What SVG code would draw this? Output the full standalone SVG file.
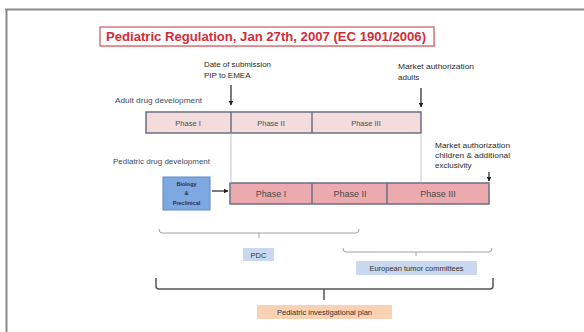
<svg xmlns="http://www.w3.org/2000/svg" width="584" height="332" viewBox="0 0 584 332">
<defs>
<style>
text{font-family:"Liberation Sans",Arial,sans-serif;}
.lbl{font-size:8px;fill:#2a2a2a;}
.sec{font-size:8px;fill:#3c4a66;}
.ph-a{font-size:7.5px;fill:#4a4a4a;text-anchor:middle;}
.ph-p{font-size:9px;fill:#4a4a4a;text-anchor:middle;}
.row-a{fill:#f4dcdd;stroke:#6b6f86;stroke-width:1.5;}
.row-p{fill:#eaaaae;stroke:#6b6f86;stroke-width:1.5;}
.div{stroke:#6b6f86;stroke-width:1.5;}
.guide{stroke:#b8b8b8;stroke-width:0.8;fill:none;}
.arr{stroke:#222;stroke-width:1.2;fill:none;marker-end:url(#ah);}
.brk{stroke:#a0a0a0;stroke-width:1;fill:none;}
.brk2{stroke:#555;stroke-width:1.5;fill:none;}
.tag{font-size:7.5px;fill:#333;text-anchor:middle;}
</style>
<marker id="ah" viewBox="0 0 10 10" refX="9" refY="5" markerWidth="4" markerHeight="4" orient="auto">
<path d="M0,0 L10,5 L0,10 z" fill="#222"/>
</marker>
</defs>
<rect width="584" height="332" fill="#ffffff"/>
<g id="frame">
<line x1="5" y1="9.5" x2="584" y2="9.5" stroke="#8a8a8a" stroke-width="2"/>
<line x1="6.5" y1="9" x2="6.5" y2="332" stroke="#8a8a8a" stroke-width="2"/>
</g>
<g id="title">
<rect x="101.5" y="28.5" width="334" height="19" fill="#bbb" opacity="0.4"/>
<rect x="100" y="27" width="334" height="19" fill="#fff" stroke="#c9585c" stroke-width="1.2"/>
<text x="106" y="41" font-size="12" font-weight="bold" fill="#d42c38" textLength="320" lengthAdjust="spacingAndGlyphs">Pediatric Regulation, Jan 27th, 2007 (EC 1901/2006)</text>
</g>
<g id="submission-label">
<text class="lbl" x="204" y="67" textLength="67" lengthAdjust="spacingAndGlyphs">Date of submission</text>
<text class="lbl" x="204" y="78">PIP to EMEA</text>
</g>
<g id="market-adults-label">
<text class="lbl" x="398" y="69" textLength="76" lengthAdjust="spacingAndGlyphs">Market authorization</text>
<text class="lbl" x="398" y="80">adults</text>
</g>
<g id="adult-label"><text class="sec" x="115" y="103" textLength="87" lengthAdjust="spacingAndGlyphs">Adult drug development</text></g>
<g id="adult-row">
<rect class="row-a" x="146" y="112" width="275" height="21"/>
<line class="div" x1="231" y1="112" x2="231" y2="133"/>
<line class="div" x1="312" y1="112" x2="312" y2="133"/>
<text class="ph-a" x="188" y="125.5">Phase I</text>
<text class="ph-a" x="271" y="125.5">Phase II</text>
<text class="ph-a" x="366" y="125.5">Phase III</text>
</g>
<g id="market-children-label">
<text class="lbl" x="435" y="148" textLength="75" lengthAdjust="spacingAndGlyphs">Market authorization</text>
<text class="lbl" x="435" y="158" textLength="75" lengthAdjust="spacingAndGlyphs">children &amp; additional</text>
<text class="lbl" x="435" y="168">exclusivity</text>
</g>
<g id="pediatric-label"><text class="sec" x="113" y="164" textLength="97" lengthAdjust="spacingAndGlyphs">Pediatric drug development</text></g>
<g id="biology">
<rect x="163" y="177" width="47" height="33" fill="#7ea8e2" stroke="#5c88c8" stroke-width="1"/>
<text x="186.5" y="186" font-size="5.5" font-weight="bold" fill="#1f2d55" text-anchor="middle">Biology</text>
<text x="186.5" y="195" font-size="5.5" font-weight="bold" fill="#1f2d55" text-anchor="middle">&amp;</text>
<text x="186.5" y="205" font-size="5.5" font-weight="bold" fill="#1f2d55" text-anchor="middle">Preclinical</text>
</g>
<g id="pediatric-row">
<rect class="row-p" x="230" y="183" width="259" height="21"/>
<line class="div" x1="312" y1="183" x2="312" y2="204"/>
<line class="div" x1="387" y1="183" x2="387" y2="204"/>
<text class="ph-p" x="271" y="197">Phase I</text>
<text class="ph-p" x="350" y="197">Phase II</text>
<text class="ph-p" x="438" y="197">Phase III</text>
</g>
<g id="pdc"><rect x="243" y="248" width="31" height="13" fill="#cad8ef"/><text class="tag" x="258.5" y="257.5" font-size="7">PDC</text></g>
<g id="european"><rect x="356" y="261" width="121" height="14" fill="#c9d8ef"/><text class="tag" x="416.5" y="270.5">European tumor committees</text></g>
<g id="pip"><rect x="257" y="305" width="135" height="14" fill="#f9d2b3"/><text class="tag" x="324.5" y="314.5">Pediatric investigational plan</text></g>
<g id="connectors">
<line class="arr" x1="231" y1="85" x2="231" y2="105"/>
<line class="arr" x1="421" y1="88" x2="421" y2="107"/>
<line class="arr" x1="489" y1="172" x2="489" y2="181"/>
<line class="arr" x1="212" y1="191" x2="228" y2="191"/>
<line class="guide" x1="231" y1="133" x2="231" y2="183"/>
<line class="guide" x1="421" y1="133" x2="421" y2="183"/>
<path class="brk" d="M159,229 Q159,233 162,233 L356,233 Q359,233 359,229 M259,233 L259,238"/>
<path class="brk" d="M343,248 Q343,252 346,252 L489,252 Q492,252 492,248 M416,252 L416,256"/>
<path class="brk2" d="M156,278 L156,286 Q156,289 159,289 L490,289 Q493,289 493,286 L493,278 M324,289 L324,300"/>
</g>
</svg>
